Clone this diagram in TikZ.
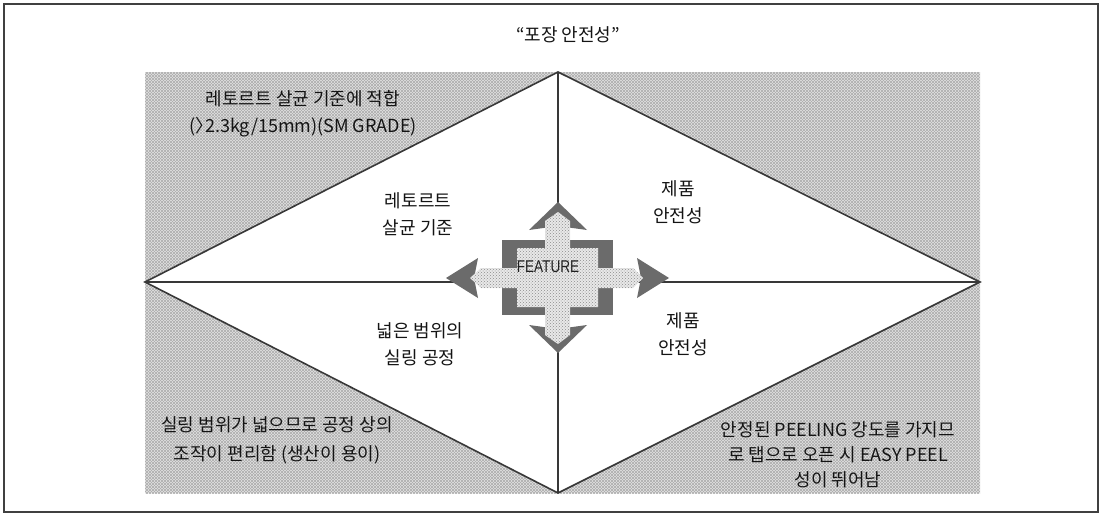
\documentclass[tikz,border=0pt]{standalone}
\usepackage{fontspec}
\usetikzlibrary{patterns}
\setmainfont{Noto Sans CJK KR}
\newfontfamily\featfont{Liberation Sans}
\begin{document}
\begin{tikzpicture}[x=1pt,y=-1pt,
  lbl/.style={font=\fontsize{18}{27}\selectfont, align=center, text=black!92, inner sep=0pt},
  edgeline/.style={draw=black!78, line width=1.6pt},
  hatchfill/.style={fill=black!11},
  hatchA/.style={pattern=north east lines, pattern color=black!32},
  hatchB/.style={pattern=north west lines, pattern color=black!32},
  darkpart/.style={fill=black!58},
  lightpart/.style={fill=black!9},
  lightdots/.style={pattern=crosshatch dots, pattern color=black!45}]
\useasboundingbox (0,0) rectangle (1102,517);
% outer frame
\draw[draw=black!75, line width=1.5pt] (4,4) rectangle (1098,512);
% diamond vertices
\coordinate (L) at (145,282);
\coordinate (T) at (558,72);
\coordinate (R) at (980,282);
\coordinate (B) at (558,493);
% hatched background with white diamond
\fill[hatchfill] (145,72) rectangle (980,493);
\fill[hatchA] (145,72) rectangle (980,493);
\fill[hatchB] (145,72) rectangle (980,493);
\fill[white] (L) -- (T) -- (R) -- (B) -- cycle;
\draw[edgeline] (L) -- (T) -- (R) -- (B) -- cycle;
\draw[edgeline] (L) -- (R);
\draw[edgeline] (T) -- (B);
% feature symbol
\fill[darkpart] (502,240) rectangle (613,315);
\fill[darkpart] (558,202) -- (587,230) -- (558,226) -- (529,230) -- cycle;
\fill[darkpart] (558,353) -- (587,325) -- (558,329) -- (529,325) -- cycle;
\fill[darkpart] (446,278) -- (478,258) -- (474,278) -- (478,298) -- cycle;
\fill[darkpart] (669,278) -- (637,258) -- (641,278) -- (637,298) -- cycle;
\path[lightpart, postaction={lightdots}] (558,212) -- (570,221) -- (570,248) -- (598,248) -- (598,268) -- (633,268)
  -- (643,278) -- (633,288) -- (598,288) -- (598,307) -- (570,307) -- (570,335)
  -- (558,344) -- (545,335) -- (545,307) -- (517,307) -- (517,288) -- (481,288)
  -- (470,278) -- (481,268) -- (517,268) -- (517,248) -- (545,248) -- (545,221) -- cycle;
\node[inner sep=0pt, text=black!88] (feat) at (548,267)
  {\scalebox{0.8}[1]{\featfont\fontsize{17}{20}\selectfont FEATURE}};
% texts
\node[lbl] (title) at (568,35) {“포장 안전성”};
\node[lbl] (tl) at (303,114) {레토르트 살균 기준에 적합\\(〉\kern-0.45em2.3kg/15mm)(SM GRADE)};
\node[lbl] (a) at (418,214) {레토르트\\살균 기준};
\node[lbl] (b) at (678,202) {제품\\안전성};
\node[lbl] (c) at (420,344) {넓은 범위의\\실링 공정};
\node[lbl] (d) at (683,334) {제품\\안전성};
\node[lbl, font=\fontsize{18}{29}\selectfont] (bl) at (277,440) {실링 범위가 넓으므로 공정 상의\\조작이 편리함 (생산이 용이)};
\node[lbl, font=\fontsize{18}{25}\selectfont] (br) at (838,455) {안정된 PEELING 강도를 가지므\\로 탭으로 오픈 시 EASY PEEL\\성이 뛰어남};
\end{tikzpicture}
\end{document}
